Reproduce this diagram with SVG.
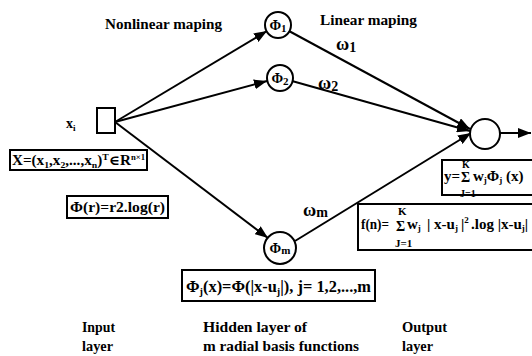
<svg xmlns="http://www.w3.org/2000/svg" width="532" height="356" viewBox="0 0 532 356">
<style>
.t{font-family:'Liberation Serif','DejaVu Serif','Times New Roman',serif;font-weight:bold;fill:#000}
.ln{stroke:#000;stroke-width:2;fill:none}
.box{fill:#fff;stroke:#000;stroke-width:2}
.nd{fill:#fff;stroke:#000;stroke-width:2}
</style>
<defs>
<marker id="ah" markerUnits="userSpaceOnUse" markerWidth="14" markerHeight="10" refX="13" refY="5" orient="auto">
<path d="M0,0 L13,5 L0,10 z" fill="#000"/>
</marker>
</defs>
<rect width="532" height="356" fill="#fff"/>
<g id="connectors">
<line class="ln" x1="115" y1="122" x2="267" y2="31" marker-end="url(#ah)"/>
<line class="ln" x1="115" y1="122" x2="267" y2="81" marker-end="url(#ah)"/>
<line class="ln" x1="115" y1="122" x2="268" y2="238" marker-end="url(#ah)"/>
<line class="ln" x1="289" y1="31" x2="470" y2="129" marker-end="url(#ah)"/>
<line class="ln" x1="292" y1="81" x2="470" y2="131" marker-end="url(#ah)"/>
<line class="ln" x1="295" y1="241" x2="471" y2="133" marker-end="url(#ah)"/>
<line class="ln" x1="500" y1="133" x2="531" y2="133" marker-end="url(#ah)"/>
</g>
<g id="input">
<rect class="nd" x="97" y="108" width="18" height="25"/>
<text class="t" x="66" y="128" font-size="14">x<tspan font-size="9" dy="3">i</tspan></text>
</g>
<g id="phi1">
<circle class="nd" cx="278" cy="25" r="13"/>
<text class="t" x="278" y="30" font-size="14" text-anchor="middle">Φ<tspan font-size="11" dy="2">1</tspan></text>
</g>
<g id="phi2">
<circle class="nd" cx="280" cy="78" r="13"/>
<text class="t" x="280" y="83" font-size="14" text-anchor="middle">Φ<tspan font-size="11" dy="2">2</tspan></text>
</g>
<g id="phim">
<circle class="nd" cx="280" cy="248" r="16"/>
<text class="t" x="280" y="253" font-size="14" text-anchor="middle">Φ<tspan font-size="11" dy="1">m</tspan></text>
</g>
<g id="output">
<circle class="nd" cx="485" cy="134" r="15"/>
</g>
<g id="labels">
<text class="t" x="105" y="29" font-size="15" textLength="117" lengthAdjust="spacingAndGlyphs">Nonlinear maping</text>
<text class="t" x="320" y="25" font-size="15" textLength="97" lengthAdjust="spacingAndGlyphs">Linear maping</text>
<text class="t" x="336" y="50" font-size="18">ω<tspan font-size="14" dy="2">1</tspan></text>
<text class="t" x="318" y="89" font-size="18">ω<tspan font-size="14" dy="2">2</tspan></text>
<text class="t" x="303" y="216" font-size="18">ω<tspan font-size="14" dy="1">m</tspan></text>
<text class="t" x="82" y="332" font-size="15" textLength="33" lengthAdjust="spacingAndGlyphs">Input</text>
<text class="t" x="82" y="351" font-size="15" textLength="31" lengthAdjust="spacingAndGlyphs">layer</text>
<text class="t" x="203" y="332" font-size="15" textLength="104" lengthAdjust="spacingAndGlyphs">Hidden layer of</text>
<text class="t" x="203" y="351" font-size="15" textLength="156" lengthAdjust="spacingAndGlyphs">m radial basis functions</text>
<text class="t" x="402" y="332" font-size="15" textLength="45" lengthAdjust="spacingAndGlyphs">Output</text>
<text class="t" x="402" y="351" font-size="15" textLength="31" lengthAdjust="spacingAndGlyphs">layer</text>
</g>
<g id="eq-x">
<rect class="box" x="10" y="150" width="137" height="20"/>
<text class="t" x="12" y="165" font-size="14" textLength="133" lengthAdjust="spacingAndGlyphs">X=(x<tspan font-size="9" dy="3">1</tspan><tspan dy="-3">,x</tspan><tspan font-size="9" dy="3">2</tspan><tspan dy="-3">,...,x</tspan><tspan font-size="9" dy="3">n</tspan><tspan dy="-3">)</tspan><tspan font-size="9" dy="-5">T</tspan><tspan dy="5">∈R</tspan><tspan font-size="8" dy="-5">n×1</tspan></text>
</g>
<g id="eq-phi">
<rect class="box" x="67" y="196" width="101" height="22"/>
<text class="t" x="70" y="212" font-size="15" textLength="95" lengthAdjust="spacingAndGlyphs">Φ(r)=r2.log(r)</text>
</g>
<g id="eq-phij">
<rect class="box" x="182" y="270" width="193" height="31"/>
<text class="t" x="186" y="292" font-size="16" textLength="185" lengthAdjust="spacingAndGlyphs">Φ<tspan font-size="10" dy="3">j</tspan><tspan dy="-3">(x)=Φ(|x-u</tspan><tspan font-size="10" dy="3">j</tspan><tspan dy="-3">|), j= 1,2,...,m</tspan></text>
</g>
<g id="eq-y">
<rect class="box" x="442" y="160" width="100" height="35"/>
<text class="t" x="444" y="181" font-size="15">y=</text>
<text class="t" x="461" y="182" font-size="14">Σ</text>
<text class="t" x="462" y="168" font-size="10">K</text>
<text class="t" x="460" y="197" font-size="10">J=1</text>
<text class="t" x="473" y="181" font-size="15">w<tspan font-size="9" dy="2">j</tspan><tspan dy="-2">Φ</tspan><tspan font-size="9" dy="2">j</tspan><tspan dy="-2"> (x)</tspan></text>
</g>
<g id="eq-f">
<rect class="box" x="358" y="204" width="200" height="46"/>
<text class="t" x="361" y="229" font-size="15" textLength="28" lengthAdjust="spacingAndGlyphs">f(n)=</text>
<text class="t" x="396" y="231" font-size="14">Σ</text>
<text class="t" x="398" y="215" font-size="11">K</text>
<text class="t" x="395" y="247" font-size="11">J=1</text>
<text class="t" x="407" y="229" font-size="15">w<tspan font-size="9" dy="2">j</tspan><tspan dy="-2" x="427">| x-u</tspan><tspan font-size="9" dy="2">j</tspan><tspan dy="-2" x="461">|</tspan><tspan font-size="9" dy="-6">2</tspan><tspan dy="6" x="471">.log |x-u</tspan><tspan font-size="9" dy="2">j</tspan><tspan dy="-2">|</tspan></text>
</g>
</svg>
